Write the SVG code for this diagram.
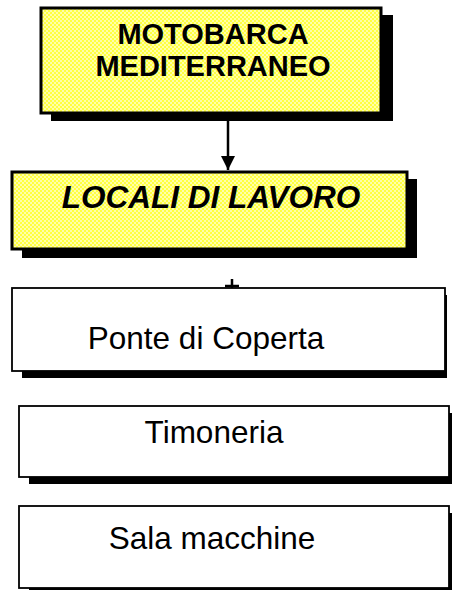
<svg xmlns="http://www.w3.org/2000/svg" width="452" height="590" viewBox="0 0 452 590">
<style>
.shadow{fill:#000}
.ybox{fill:url(#yel);stroke:#000;stroke-width:3}
.wbox{fill:#fff;stroke:#000;stroke-width:1.8}
.t{font-family:"Liberation Sans",Arial,sans-serif;fill:#000}
.tb{font-weight:bold;font-size:29px}
.tbi{font-weight:bold;font-style:italic;font-size:31.5px}
.tn{font-size:31.5px}
.conn{stroke:#000;stroke-width:2.5;fill:none}
</style>
<defs>
<pattern id="yel" width="4" height="4" patternUnits="userSpaceOnUse">
<rect width="4" height="4" fill="#ffff40"/>
<rect x="0" y="0" width="2" height="2" fill="#ffffa8"/>
<rect x="2" y="2" width="2" height="2" fill="#ffffa8"/>
</pattern>
<marker id="arr" markerWidth="15" markerHeight="14" refX="14" refY="7" orient="auto" markerUnits="userSpaceOnUse">
<path d="M0,0 L14,7 L0,14 Z" fill="#000"/>
</marker>
</defs>
<g id="connectors">
<line class="conn" x1="228" y1="121" x2="228" y2="170" marker-end="url(#arr)"/>
<line class="conn" x1="232" y1="279" x2="232" y2="289"/>
<line class="conn" x1="225" y1="286" x2="239" y2="286"/>
</g>
<g id="node-motobarca">
<rect class="shadow" x="51" y="15" width="342" height="106"/>
<rect class="ybox" x="41" y="8" width="340" height="105"/>
<text class="t tb" x="213" y="44" text-anchor="middle">MOTOBARCA</text>
<text class="t tb" x="213" y="76" text-anchor="middle">MEDITERRANEO</text>
</g>
<g id="node-locali">
<rect class="shadow" x="22" y="179" width="395" height="79"/>
<rect class="ybox" x="12" y="172" width="395" height="77"/>
<text class="t tbi" x="211" y="208" text-anchor="middle">LOCALI DI LAVORO</text>
</g>
<g id="node-ponte">
<rect class="shadow" x="22" y="295" width="425" height="83"/>
<rect class="wbox" x="12" y="288" width="433" height="83"/>
<text class="t tn" x="206" y="349" text-anchor="middle">Ponte di Coperta</text>
</g>
<g id="node-timoneria">
<rect class="shadow" x="29" y="413" width="423" height="71"/>
<rect class="wbox" x="19" y="406" width="430" height="71"/>
<text class="t tn" x="214" y="443" text-anchor="middle">Timoneria</text>
</g>
<g id="node-sala">
<rect class="shadow" x="29" y="513" width="423" height="82"/>
<rect class="wbox" x="19" y="506" width="430" height="82"/>
<text class="t tn" x="212" y="549" text-anchor="middle">Sala macchine</text>
</g>
</svg>
